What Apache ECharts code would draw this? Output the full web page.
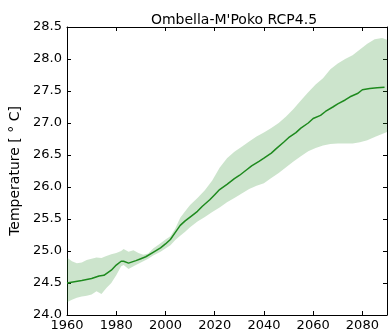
<!DOCTYPE html>
<html>
<head>
<meta charset="utf-8">
<script src="https://cdn.jsdelivr.net/npm/echarts@6/dist/echarts.min.js"></script>
<style>
  html, body { margin: 0; padding: 0; background: #fff; }
  #chart { width: 390px; height: 332px; }
</style>
</head>
<body>
<div id="chart"></div>
<script>
// Ensemble mean near-surface temperature, Ombella-M'Poko, RCP4.5 (°C)
const meanYears = [1960, 1963, 1966, 1970, 1973, 1975, 1978, 1980, 1982, 1983, 1985, 1988, 1990, 1992, 1995, 1998, 2000, 2002, 2004, 2006, 2008, 2010, 2013, 2015, 2018, 2020, 2022, 2025, 2028, 2030, 2033, 2035, 2038, 2040, 2043, 2045, 2048, 2050, 2053, 2055, 2058, 2060, 2063, 2065, 2068, 2070, 2073, 2075, 2078, 2080, 2083, 2086, 2089];
const meanTemp  = [24.50, 24.52, 24.54, 24.57, 24.61, 24.62, 24.70, 24.78, 24.84, 24.84, 24.81, 24.85, 24.88, 24.91, 24.98, 25.05, 25.11, 25.18, 25.29, 25.40, 25.47, 25.53, 25.62, 25.70, 25.80, 25.88, 25.96, 26.04, 26.13, 26.18, 26.27, 26.33, 26.40, 26.45, 26.53, 26.60, 26.70, 26.77, 26.85, 26.92, 27.00, 27.07, 27.12, 27.18, 27.25, 27.30, 27.36, 27.41, 27.46, 27.52, 27.54, 27.55, 27.56];

// Ensemble spread (lower / upper envelope)
const bandYears = [1960, 1962, 1964, 1966, 1968, 1970, 1972, 1974, 1976, 1978, 1980, 1982, 1983, 1985, 1987, 1989, 1991, 1993, 1995, 1998, 2000, 2002, 2004, 2006, 2008, 2010, 2013, 2016, 2019, 2022, 2025, 2028, 2031, 2034, 2037, 2040, 2043, 2046, 2049, 2052, 2055, 2058, 2061, 2064, 2067, 2070, 2073, 2076, 2079, 2082, 2085, 2088, 2090];
const bandLow   = [24.20, 24.24, 24.27, 24.29, 24.30, 24.32, 24.37, 24.33, 24.42, 24.50, 24.62, 24.76, 24.78, 24.72, 24.76, 24.80, 24.84, 24.88, 24.93, 24.99, 25.04, 25.09, 25.17, 25.24, 25.30, 25.37, 25.46, 25.53, 25.61, 25.68, 25.76, 25.83, 25.90, 25.97, 26.02, 26.06, 26.14, 26.22, 26.31, 26.40, 26.48, 26.56, 26.61, 26.65, 26.67, 26.68, 26.68, 26.68, 26.70, 26.73, 26.78, 26.83, 26.86];
const bandHigh  = [24.90, 24.84, 24.81, 24.82, 24.86, 24.88, 24.90, 24.89, 24.92, 24.95, 24.97, 25.00, 25.03, 24.99, 25.01, 24.97, 24.94, 24.96, 25.04, 25.12, 25.18, 25.23, 25.35, 25.52, 25.62, 25.72, 25.83, 25.95, 26.10, 26.30, 26.45, 26.55, 26.63, 26.71, 26.79, 26.85, 26.92, 27.00, 27.10, 27.22, 27.35, 27.48, 27.60, 27.70, 27.84, 27.93, 28.00, 28.06, 28.15, 28.24, 28.31, 28.33, 28.30];

const xTicks = [1960, 1980, 2000, 2020, 2040, 2060, 2080];
const yTicks = [24.0, 24.5, 25.0, 25.5, 26.0, 26.5, 27.0, 27.5, 28.0, 28.5];

const chart = echarts.init(document.getElementById('chart'), null, { renderer: 'canvas' });

const FONT = 'DejaVu Sans';
const tickStyle = { show: true, inside: true, length: 4, lineStyle: { color: '#000', width: 1 } };
const lineStyle = { show: true, onZero: false, lineStyle: { color: '#000', width: 1 } };

const xBase = {
  type: 'value', min: 1960, max: 2090, interval: 20,
  axisLine: lineStyle, axisTick: tickStyle, splitLine: { show: false }
};
const yBase = {
  type: 'value', min: 24.0, max: 28.5, interval: 0.5,
  axisLine: lineStyle, axisTick: tickStyle, splitLine: { show: false }
};

chart.setOption({
  animation: false,
  backgroundColor: '#fff',
  title: {
    text: "Ombella-M'Poko RCP4.5",
    left: 229, top: 8, textAlign: 'center',
    textStyle: { fontFamily: FONT, fontSize: 14, fontWeight: 'normal', color: '#000' }
  },
  grid: { left: 67, top: 27, width: 324, height: 288, containLabel: false },
  xAxis: [
    Object.assign({}, xBase, {
      position: 'bottom',
      axisLabel: {
        fontFamily: FONT, fontSize: 13, color: '#000', margin: 4,
        formatter: v => xTicks.includes(v) ? String(v) : ''
      }
    }),
    Object.assign({}, xBase, { position: 'top', axisLabel: { show: false } })
  ],
  yAxis: [
    Object.assign({}, yBase, {
      position: 'left',
      name: 'Temperature [ ° C]',
      nameLocation: 'middle', nameGap: 42, nameRotate: 90,
      nameTextStyle: { fontFamily: FONT, fontSize: 14, color: '#000' },
      axisLabel: {
        fontFamily: FONT, fontSize: 13, color: '#000', margin: 5,
        formatter: v => yTicks.some(t => Math.abs(t - v) < 1e-6) ? v.toFixed(1) : ''
      }
    }),
    Object.assign({}, yBase, { position: 'right', axisLabel: { show: false } })
  ],
  series: [
    {
      // shaded spread between the lower and upper envelopes
      type: 'custom',
      xAxisIndex: 0, yAxisIndex: 0,
      clip: true,
      silent: true,
      data: [0],
      renderItem: function (params, api) {
        const pts = [];
        for (let i = 0; i < bandYears.length; i++) pts.push(api.coord([bandYears[i], bandHigh[i]]));
        for (let i = bandYears.length - 1; i >= 0; i--) pts.push(api.coord([bandYears[i], bandLow[i]]));
        return {
          type: 'polygon',
          shape: { points: pts },
          style: { fill: 'rgba(34,139,34,0.23)', stroke: 'none' }
        };
      },
      z: 1
    },
    {
      type: 'line',
      xAxisIndex: 0, yAxisIndex: 0,
      data: meanYears.map((y, i) => [y, meanTemp[i]]),
      showSymbol: false,
      lineStyle: { color: '#1e8a1e', width: 1.5 },
      z: 3
    }
  ]
});
</script>
</body>
</html>
